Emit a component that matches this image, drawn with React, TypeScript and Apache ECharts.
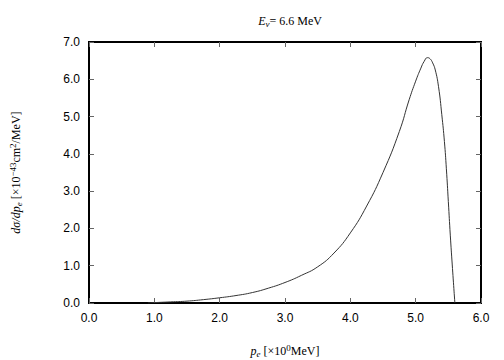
import React, { useEffect, useRef } from "react";
import * as echarts from "echarts";

const momentum = [0.9, 1.0, 1.25, 1.5, 1.75, 2.0, 2.25, 2.5, 2.75, 3.0, 3.25, 3.5, 3.75, 4.0, 4.25, 4.5, 4.75, 4.9, 5.0, 5.08, 5.13, 5.18, 5.22, 5.26, 5.3, 5.35, 5.4, 5.44, 5.47, 5.5, 5.53, 5.56, 5.6];
const crossSection = [0, 0.01, 0.03, 0.05, 0.09, 0.14, 0.2, 0.28, 0.4, 0.55, 0.74, 0.97, 1.34, 1.88, 2.6, 3.5, 4.6, 5.45, 5.95, 6.3, 6.48, 6.58, 6.55, 6.44, 6.25, 5.8, 5.05, 4.33, 3.6, 2.72, 1.82, 1.02, 0];
const xTicks = [0, 1, 2, 3, 4, 5, 6];
const yTicks = [0, 1, 2, 3, 4, 5, 6, 7];

export default function App() {
  const ref = useRef<HTMLDivElement>(null);
  useEffect(() => {
    const chart = echarts.init(ref.current!, null, { renderer: "svg" });
    const tickStyle = () => ({ show: true, inside: true, length: 5, lineStyle: { color: "#666", width: 1 } });
    const lineStyle = () => ({ show: true, onZero: false, lineStyle: { color: "#000", width: 2 } });
    const labelFont = { fontFamily: "Liberation Sans", fontSize: 12, color: "#000" };
    const rich = {
      i: { fontFamily: "Liberation Serif", fontStyle: "italic", fontWeight: "normal", fontSize: 12, color: "#000" },
      s: { fontFamily: "Liberation Serif", fontStyle: "italic", fontWeight: "normal", fontSize: 9, color: "#000", verticalAlign: "bottom", padding: [6, 0, 0, 0] },
      n: { fontFamily: "Liberation Serif", fontWeight: "normal", fontSize: 12, color: "#000" },
      sup: { fontFamily: "Liberation Serif", fontWeight: "normal", fontSize: 9, color: "#000", verticalAlign: "top", padding: [0, 0, 6, 0] },
    };
    const gridBox = { left: 89, right: 23, top: 42, bottom: 57, outerBoundsMode: "none", containLabel: false };
    chart.setOption({
      animation: false,
      title: {
        text: "{i|E}{s|ν}{n|= 6.6 MeV}",
        left: 285,
        textAlign: "center",
        top: 8,
        textStyle: { fontWeight: "normal", rich },
      },
      grid: [
        { ...gridBox, show: true, borderColor: "#000", borderWidth: 2, backgroundColor: "transparent" },
        { ...gridBox, show: false },
      ],
      xAxis: [
        {
          type: "value", min: 0, max: 6, interval: 1, gridIndex: 0, position: "bottom",
          axisLine: lineStyle(), axisTick: tickStyle(), splitLine: { show: false },
          axisLabel: { ...labelFont, margin: 9, formatter: (v: number) => (xTicks.includes(v) ? v.toFixed(1) : "") },
          name: "{i|p}{s|e}{n| [×10}{sup|0}{n|MeV]}",
          nameLocation: "middle", nameGap: 40,
          nameTextStyle: { rich },
        },
        {
          type: "value", min: 0, max: 6, interval: 1, gridIndex: 1, position: "top",
          axisLine: lineStyle(), axisTick: tickStyle(), splitLine: { show: false }, axisLabel: { show: false },
        },
      ],
      yAxis: [
        {
          type: "value", min: 0, max: 7, interval: 1, gridIndex: 0, position: "left",
          axisLine: lineStyle(), axisTick: tickStyle(), splitLine: { show: false },
          axisLabel: { ...labelFont, margin: 9, formatter: (v: number) => (yTicks.includes(v) ? v.toFixed(1) : "") },
          name: "{i|dσ/dp}{s|e}{n| [×10}{sup|−43}{n|cm}{sup|2}{n|/MeV]}",
          nameLocation: "middle", nameGap: 66, nameRotate: 90,
          nameTextStyle: { rich },
        },
        {
          type: "value", min: 0, max: 7, interval: 1, gridIndex: 1, position: "right",
          axisLine: lineStyle(), axisTick: tickStyle(), splitLine: { show: false }, axisLabel: { show: false },
        },
      ],
      series: [
        {
          type: "line",
          data: momentum.map((x, i) => [x, crossSection[i]]),
          smooth: 0.5,
          showSymbol: false,
          lineStyle: { color: "#333", width: 1 },
          xAxisIndex: 0,
          yAxisIndex: 0,
        },
        {
          type: "line",
          data: [[0, 0]],
          showSymbol: false,
          lineStyle: { opacity: 0 },
          xAxisIndex: 1,
          yAxisIndex: 1,
        },
      ],
    });
    return () => chart.dispose();
  }, []);
  return <div ref={ref} style={{ width: 504, height: 360, position: "absolute", left: 0, top: 0 }} />;
}
